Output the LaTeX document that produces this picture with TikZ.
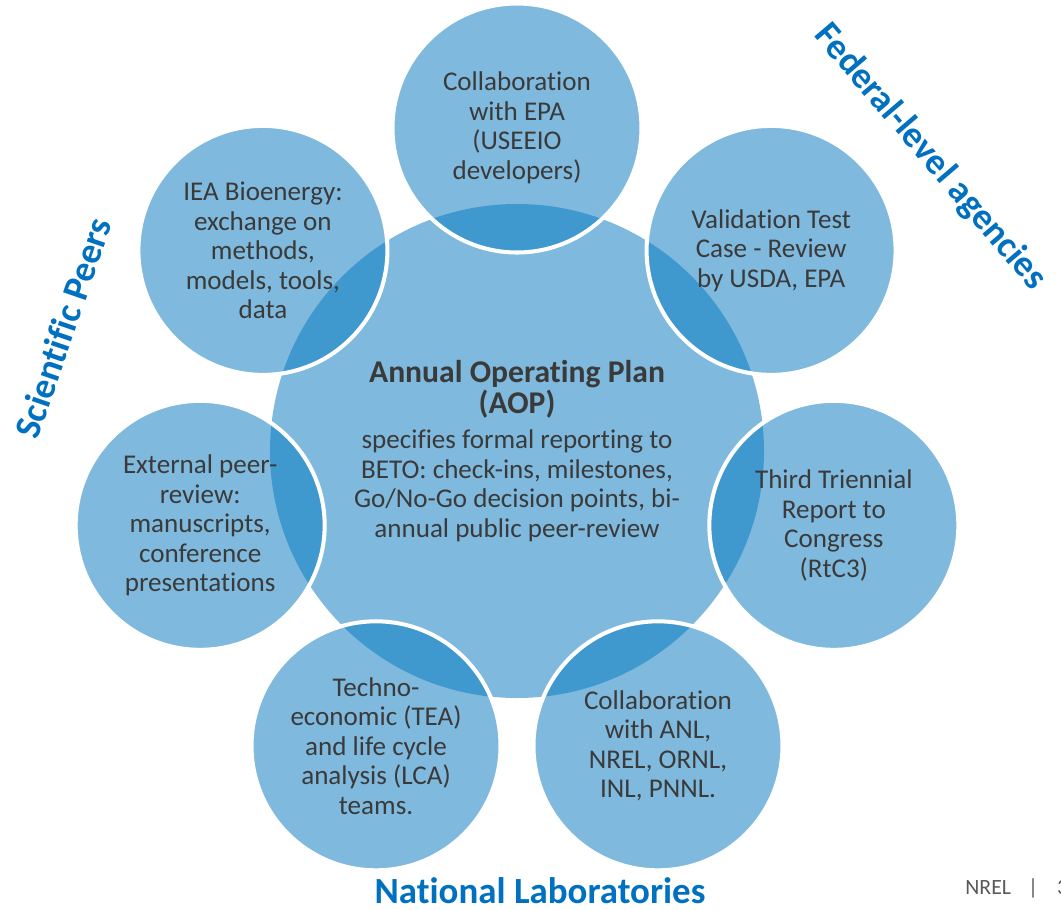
\documentclass[tikz,border=0pt]{standalone}
\usepackage{fontspec}
\setmainfont[Ligatures=CommonOff]{Carlito}
\usepackage{xcolor}
\usepackage{tikz}
\usetikzlibrary{positioning,calc}

\definecolor{circlefill}{HTML}{7FB9DD}
\definecolor{overlapfill}{HTML}{3F98CE}
\definecolor{labelblue}{HTML}{0070C0}
\definecolor{bodytext}{HTML}{3A3A3A}
\definecolor{footgray}{HTML}{595959}

\newcommand{\satfont}{\fontsize{15.4}{16.8}\selectfont}
\newcommand{\aoptitle}{\bfseries\fontsize{18}{17.6}\selectfont}
\newcommand{\groupfont}{\bfseries\fontsize{21}{23}\selectfont}

\tikzset{
    hub/.style={circle, fill=circlefill, minimum size=9.88cm, inner sep=0pt,
        align=center, text=bodytext, font=\satfont},
    sat/.style={circle, fill=circlefill, draw=white, line width=2.3pt,
        minimum size=4.98cm, inner sep=0pt, align=center, text=bodytext, font=\satfont,
        path picture={\fill[overlapfill] (aop.center) circle[radius=4.94cm];}},
    group/.style={text=labelblue, font=\groupfont}
}

\begin{document}
\begin{tikzpicture}
    \useasboundingbox (-10.34,-9.12) rectangle (10.88,9.06);

    % Centre
    \node[hub] (aop) at (0,0.04) {{\aoptitle Annual Operating Plan}\\[1pt]
        {\aoptitle (AOP)}\\[3pt]
        specifies formal reporting to\\
        BETO: check-ins, milestones,\\
        Go/No-Go decision points, bi-\\
        annual public peer-review};

    % Satellites
    \node[sat] (epa) at (90:6.5cm) {Collaboration\\with EPA\\(USEEIO\\developers)};
    \node[sat] (usda) at (38.57:6.5cm) {Validation Test\\Case - Review\\by USDA, EPA};
    \node[sat] (rtc) at (-12.86:6.5cm) {Third Triennial\\Report to\\Congress\\(RtC3)};
    \node[sat] (labs) at (-64.29:6.5cm) {Collaboration\\with ANL,\\NREL, ORNL,\\INL, PNNL.};
    \node[sat] (tea) at (-115.71:6.5cm) {Techno-\\economic (TEA)\\and life cycle\\analysis (LCA)\\teams.};
    \node[sat] (review) at (192.86:6.5cm) {External peer-\\review:\\manuscripts,\\conference\\presentations};
    \node[sat] (iea) at (141.43:6.5cm) {IEA Bioenergy:\\exchange on\\methods,\\models, tools,\\data};

    % Groups
    \node[group, rotate=-49.5] (federal) at (8.26,5.92) {Federal-level agencies};
    \node[group, rotate=71] (peers) at (-9.08,2.5) {Scientific Peers};
    \node[group] (natlabs) at (0.46,-8.76) {National Laboratories};

    % Footer
    \node[anchor=west, inner sep=0pt, text=footgray, font=\fontsize{12.4}{14}\selectfont] (foot) at (8.96,-8.7)
        {NREL\hspace{0.34cm}|\hspace{0.38cm}3};
\end{tikzpicture}
\end{document}
